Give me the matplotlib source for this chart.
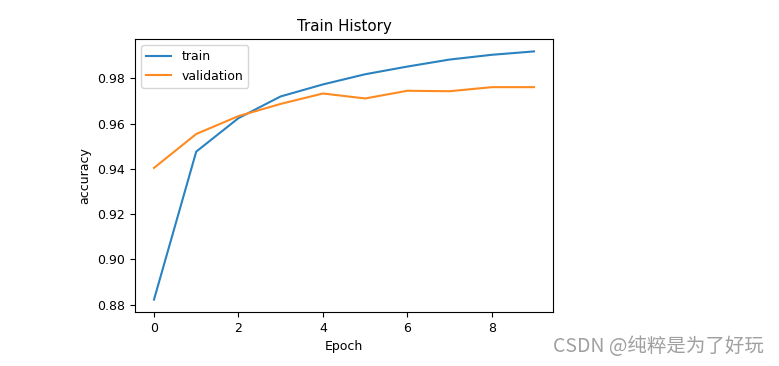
import matplotlib
matplotlib.use("Agg")
import matplotlib.pyplot as plt

epochs = [0, 1, 2, 3, 4, 5, 6, 7, 8, 9]
trainAcc = [0.8822, 0.9476, 0.9624, 0.9720, 0.9773, 0.9818, 0.9852, 0.9883, 0.9904, 0.9919]
valAcc = [0.9404, 0.9554, 0.9633, 0.9687, 0.9733, 0.9711, 0.9745, 0.9743, 0.9761, 0.9761]
seriesNames = ["train", "validation"]

fig = plt.figure(figsize=(7.79, 3.66), dpi=100)
ax = fig.add_axes([135 / 779, 54 / 366, 418 / 779, 273 / 366])

ax.plot(epochs, trainAcc, color="#2a82c0", linewidth=1.5, label=seriesNames[0])
ax.plot(epochs, valAcc, color="#ff8a20", linewidth=1.5, label=seriesNames[1])

ax.set_title("Train History", fontsize=10.8)
ax.set_ylabel("accuracy", fontsize=9)
ax.set_xlabel("Epoch", fontsize=9)
ax.tick_params(labelsize=9)
ax.legend(loc="upper left", fontsize=9)

# watermark
fig.text(0.981, 0.054, "CSDN @纯粹是为了好玩", ha="right", va="center",
         fontsize=14, color="#a0a0a0",
         family=["Noto Sans CJK SC", "DejaVu Sans"])

fig.savefig("out.png", dpi=100)
